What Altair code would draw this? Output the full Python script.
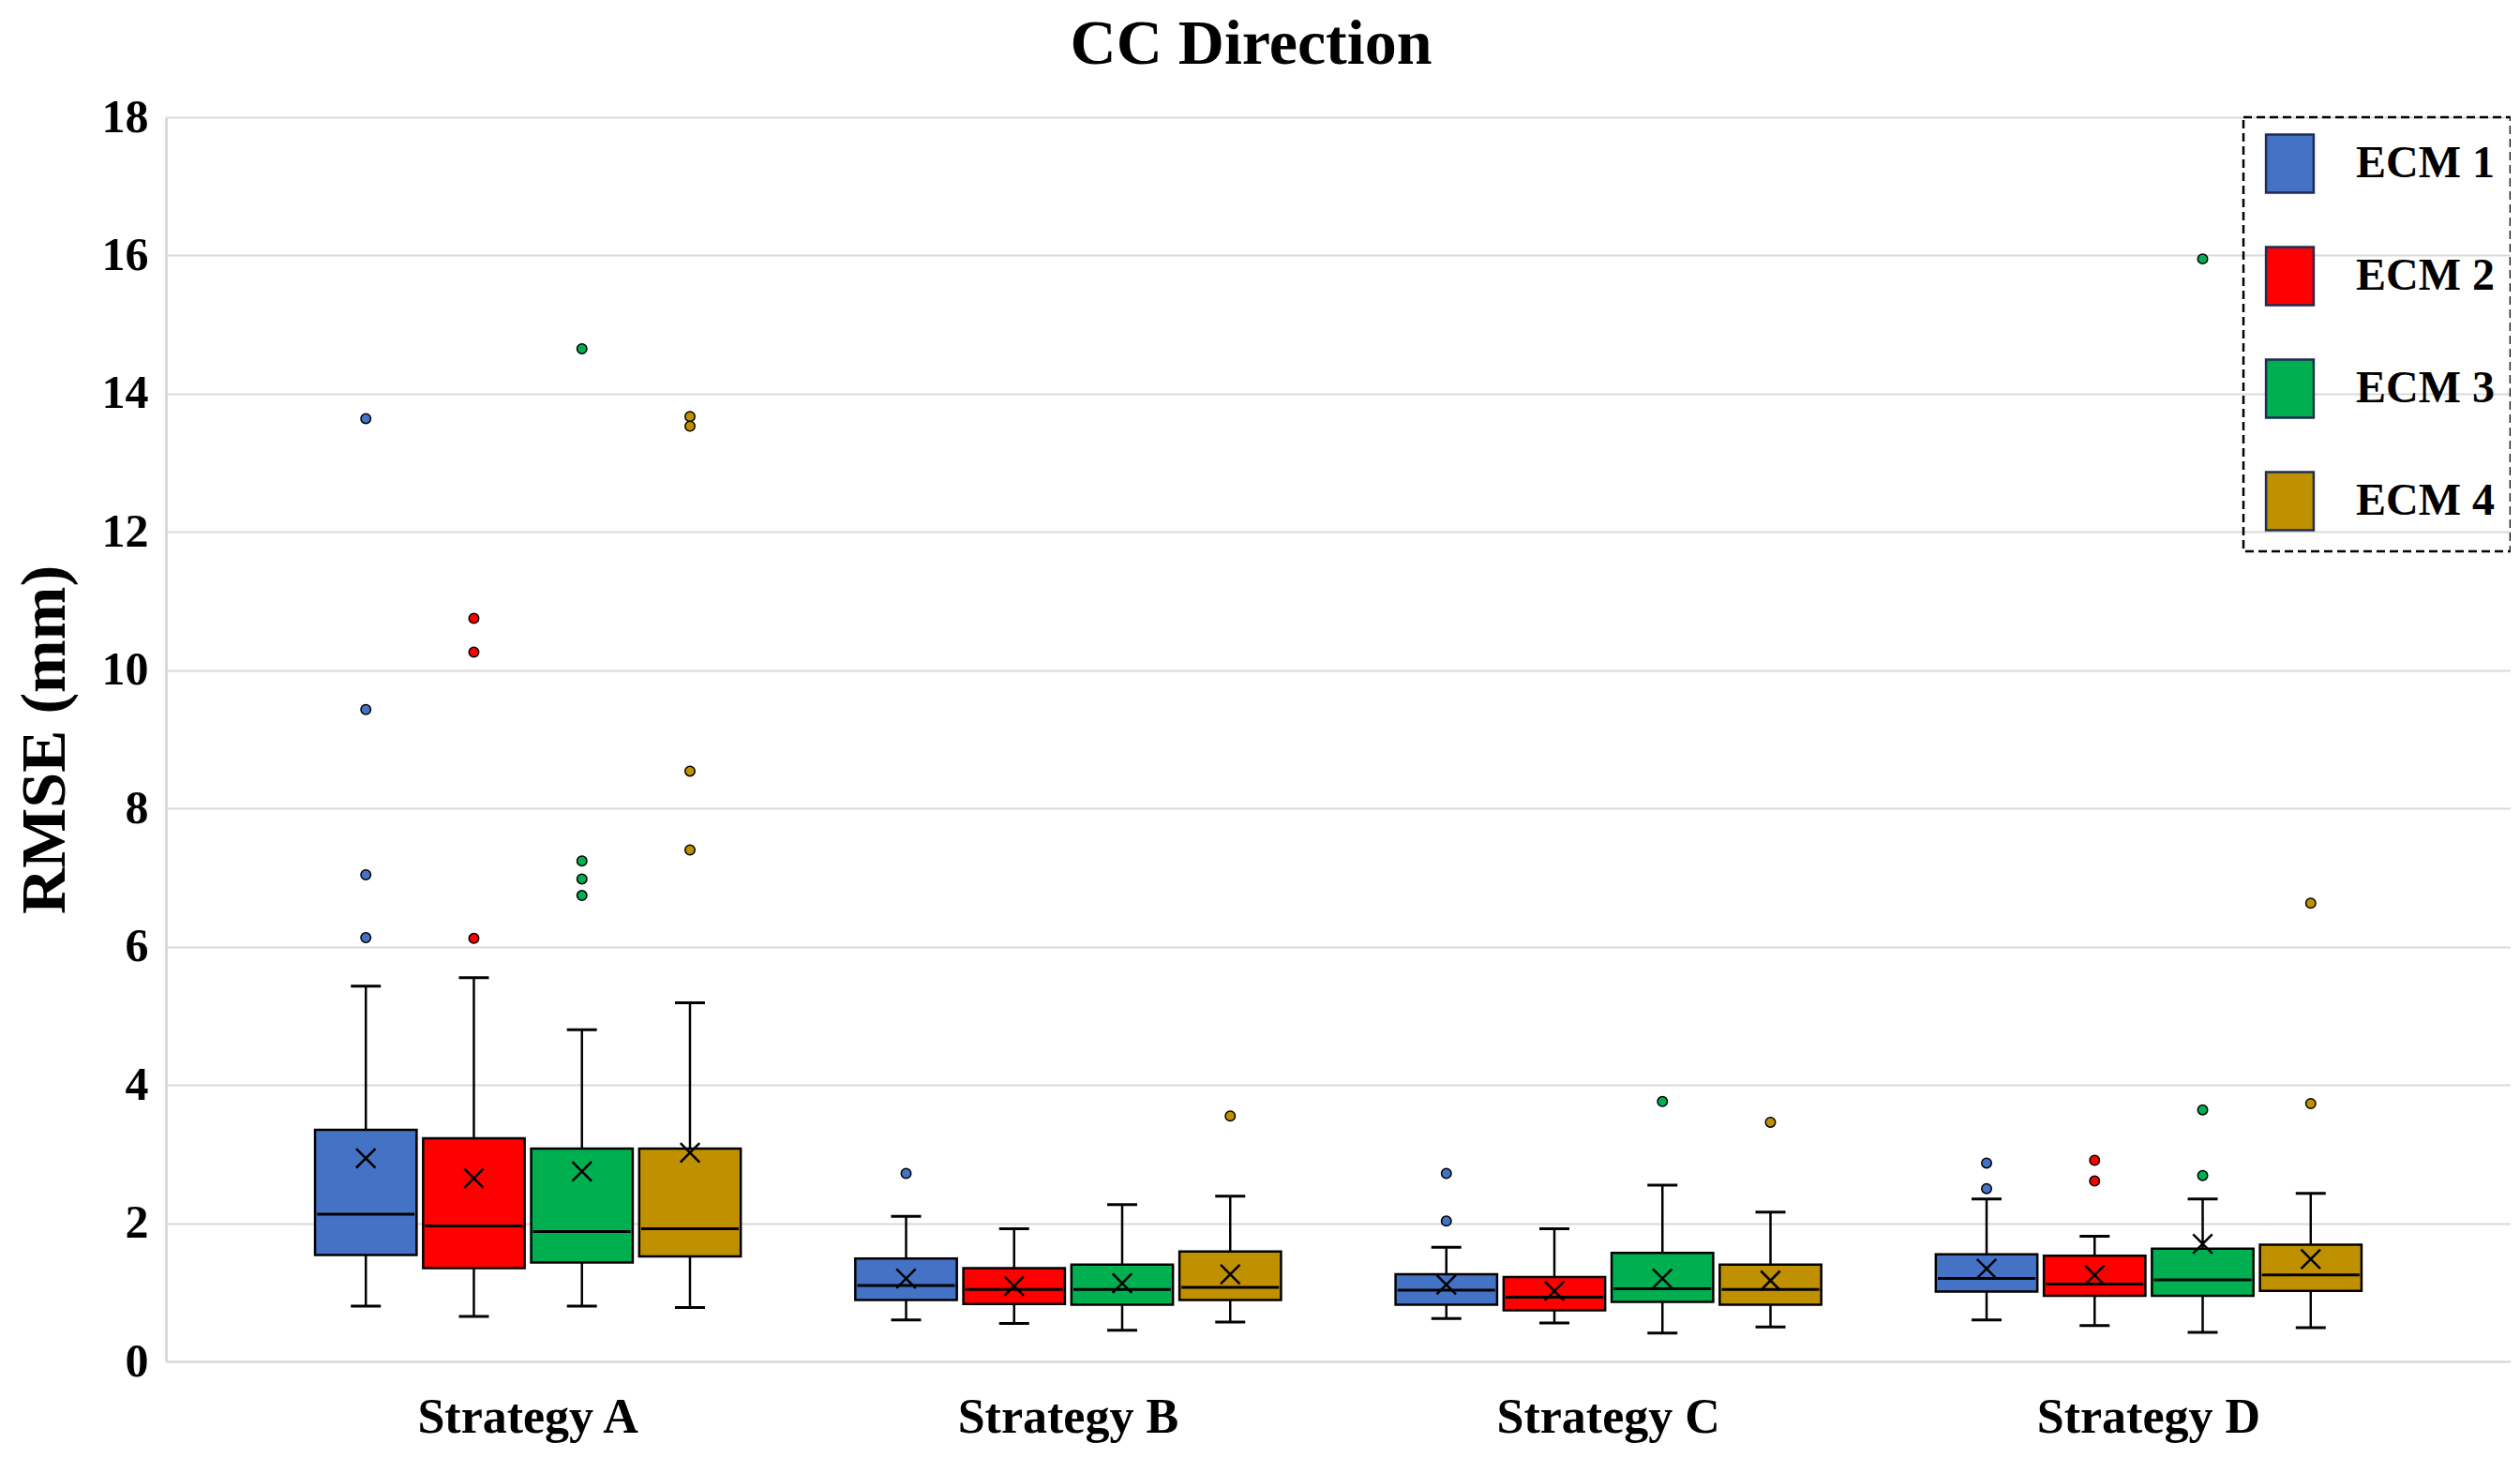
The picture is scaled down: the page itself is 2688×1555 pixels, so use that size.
import altair as alt
import pandas as pd

strategies = ["Strategy A", "Strategy B", "Strategy C", "Strategy D"]
ecms = ["ECM 1", "ECM 2", "ECM 3", "ECM 4"]
colors = ["#4472C4", "#FF0000", "#00B050", "#BF9000"]

# per ECM, values for Strategy A..D
ecm1_lo = [0.80, 0.60, 0.62, 0.60]
ecm1_q1 = [1.54, 0.89, 0.82, 1.01]
ecm1_med = [2.13, 1.10, 1.03, 1.20]
ecm1_q3 = [3.35, 1.49, 1.26, 1.55]
ecm1_hi = [5.43, 2.10, 1.65, 2.35]
ecm1_mean = [2.94, 1.20, 1.11, 1.34]

ecm2_lo = [0.65, 0.55, 0.555, 0.52]
ecm2_q1 = [1.35, 0.83, 0.74, 0.95]
ecm2_med = [1.96, 1.04, 0.93, 1.12]
ecm2_q3 = [3.23, 1.35, 1.22, 1.53]
ecm2_hi = [5.55, 1.92, 1.92, 1.81]
ecm2_mean = [2.65, 1.09, 1.02, 1.25]

ecm3_lo = [0.80, 0.45, 0.41, 0.42]
ecm3_q1 = [1.43, 0.82, 0.86, 0.95]
ecm3_med = [1.88, 1.04, 1.05, 1.18]
ecm3_q3 = [3.08, 1.40, 1.57, 1.63]
ecm3_hi = [4.80, 2.27, 2.55, 2.35]
ecm3_mean = [2.75, 1.13, 1.20, 1.70]

ecm4_lo = [0.78, 0.57, 0.50, 0.49]
ecm4_q1 = [1.52, 0.89, 0.82, 1.02]
ecm4_med = [1.92, 1.07, 1.04, 1.25]
ecm4_q3 = [3.08, 1.59, 1.40, 1.69]
ecm4_hi = [5.19, 2.39, 2.16, 2.43]
ecm4_mean = [3.02, 1.26, 1.17, 1.48]

out_strategy = (["Strategy A"] * 15 + ["Strategy B"] * 2 + ["Strategy C"] * 4
                + ["Strategy D"] * 9)
out_ecm = (["ECM 1"] * 4 + ["ECM 2"] * 3 + ["ECM 3"] * 4 + ["ECM 4"] * 4
           + ["ECM 1", "ECM 4"]
           + ["ECM 1", "ECM 1", "ECM 3", "ECM 4"]
           + ["ECM 1", "ECM 1", "ECM 2", "ECM 2", "ECM 3", "ECM 3", "ECM 3", "ECM 4", "ECM 4"])
out_value = ([13.64, 9.43, 7.04, 6.13, 10.75, 10.26, 6.12, 14.65, 7.24, 6.98, 6.74,
              13.67, 13.53, 8.54, 7.40]
             + [2.72, 3.55]
             + [2.72, 2.03, 3.76, 3.46]
             + [2.87, 2.50, 2.91, 2.61, 15.95, 3.64, 2.69, 6.63, 3.73])

stats = {
    "ECM 1": (ecm1_lo, ecm1_q1, ecm1_med, ecm1_q3, ecm1_hi, ecm1_mean),
    "ECM 2": (ecm2_lo, ecm2_q1, ecm2_med, ecm2_q3, ecm2_hi, ecm2_mean),
    "ECM 3": (ecm3_lo, ecm3_q1, ecm3_med, ecm3_q3, ecm3_hi, ecm3_mean),
    "ECM 4": (ecm4_lo, ecm4_q1, ecm4_med, ecm4_q3, ecm4_hi, ecm4_mean),
}
rows = []
for e in ecms:
    lo, q1, med, q3, hi, mean = stats[e]
    for i, s in enumerate(strategies):
        rows.append(dict(strategy=s, ecm=e, lo=lo[i], q1=q1[i], med=med[i],
                         q3=q3[i], hi=hi[i], mean=mean[i]))
box_df = pd.DataFrame(rows)
out_df = pd.DataFrame(dict(strategy=out_strategy, ecm=out_ecm, value=out_value))

FONT = "Liberation Serif"

x_enc = alt.X("strategy:N", sort=strategies, title=None,
              scale=alt.Scale(paddingInner=0.2, paddingOuter=0.27),
              axis=alt.Axis(labelAngle=0, labelLimit=0))
xo_enc = alt.XOffset("ecm:N", sort=ecms,
                     scale=alt.Scale(paddingInner=0.06, paddingOuter=0.03))
color_enc = alt.Color(
    "ecm:N", sort=ecms, title=None,
    scale=alt.Scale(domain=ecms, range=colors),
    legend=alt.Legend(orient="none", legendX=2216, legendY=0,
                      symbolType="M-0.82,-1H0.82V1H-0.82Z", symbolSize=3844,
                      symbolStrokeColor="#1F2D50", symbolStrokeWidth=2.5,
                      symbolOpacity=1,
                      labelFont=FONT, labelFontSize=48, labelFontWeight="bold",
                      labelColor="black", labelOffset=38, rowPadding=47,
                      padding=17, strokeColor="black"))

y_scale = alt.Scale(domain=[0, 18], nice=False)
y_axis = alt.Axis(values=list(range(0, 19, 2)), title="RMSE (mm)")

base_box = alt.Chart(box_df)

whisk = base_box.mark_rule(color="black", strokeWidth=2.5).encode(
    x=x_enc, xOffset=xo_enc,
    y=alt.Y("lo:Q", scale=y_scale, axis=y_axis), y2="hi:Q")

box = base_box.mark_bar(stroke="black", strokeWidth=2.5, opacity=1).encode(
    x=x_enc, xOffset=xo_enc,
    y=alt.Y("q1:Q", scale=y_scale, axis=y_axis), y2="q3:Q",
    color=color_enc)

med = base_box.mark_tick(color="black", size=104, thickness=3, opacity=1).encode(
    x=x_enc, xOffset=xo_enc, y=alt.Y("med:Q", scale=y_scale, axis=y_axis))

cap_lo = base_box.mark_tick(color="black", size=32, thickness=3, opacity=1).encode(
    x=x_enc, xOffset=xo_enc, y=alt.Y("lo:Q", scale=y_scale, axis=y_axis))
cap_hi = base_box.mark_tick(color="black", size=32, thickness=3, opacity=1).encode(
    x=x_enc, xOffset=xo_enc, y=alt.Y("hi:Q", scale=y_scale, axis=y_axis))

mean_pt = base_box.mark_point(shape="M-1,-1L1,1M1,-1L-1,1", size=420,
                              filled=False, color="black", strokeWidth=2.5,
                              opacity=1).encode(
    x=x_enc, xOffset=xo_enc, y=alt.Y("mean:Q", scale=y_scale, axis=y_axis))

outl = alt.Chart(out_df).mark_point(shape="circle", size=110, filled=True,
                                    stroke="black", strokeWidth=1.5,
                                    opacity=1).encode(
    x=x_enc, xOffset=xo_enc, y=alt.Y("value:Q", scale=y_scale, axis=y_axis),
    fill=alt.Fill("ecm:N", sort=ecms, scale=alt.Scale(domain=ecms, range=colors),
                  legend=None))

chart = alt.layer(whisk, box, med, cap_lo, cap_hi, mean_pt, outl).properties(
    width=2501, height=1327,
    autosize=alt.AutoSizeParams(type="none"),
    padding={"left": 169, "top": 117, "right": 0, "bottom": 95},
    title=alt.TitleParams("CC Direction", font=FONT, fontSize=68,
                          fontWeight="bold", color="black", anchor="middle",
                          dx=-93, offset=18),
).configure_view(stroke=None).configure_axis(
    labelFont=FONT, labelFontWeight="bold", labelColor="black",
    titleFont=FONT, titleFontWeight="bold", titleColor="black",
    ticks=False,
).configure_axisY(
    labelFontSize=50, labelPadding=19, titleFontSize=68, titlePadding=26,
    gridColor="#D9D9D9", gridWidth=2, domainColor="#D9D9D9", domainWidth=3,
).configure_axisX(
    labelFontSize=52, labelPadding=34, grid=False,
    domainColor="#D9D9D9", domainWidth=2,
).configure_legend(
    strokeDash=[9, 5], strokeWidth=2.5,
)

chart.save("out.html", embed_options={"renderer": "svg", "actions": False})
